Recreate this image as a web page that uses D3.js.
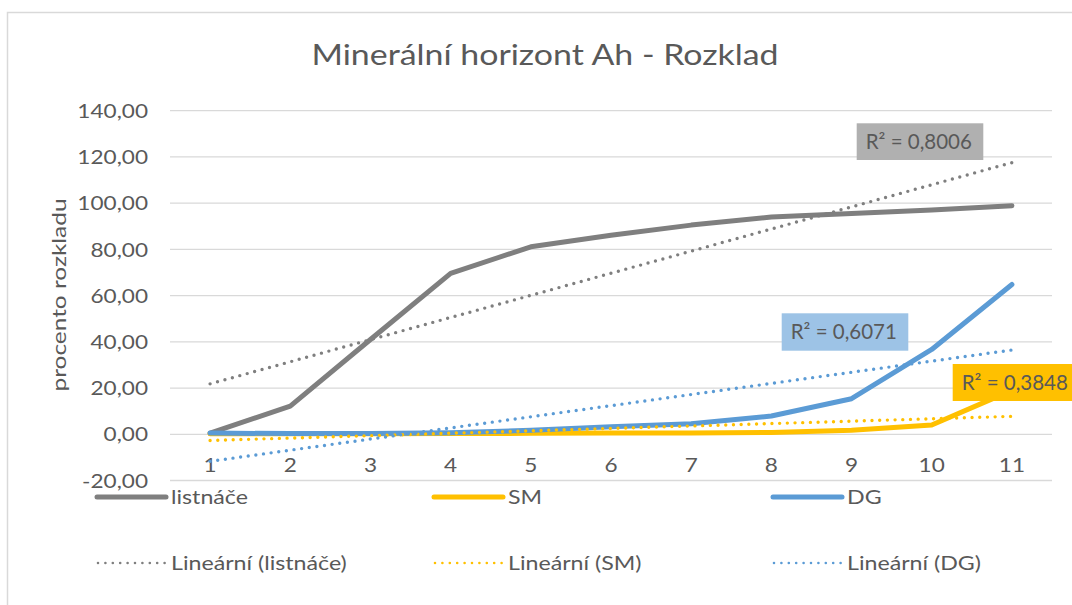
<!DOCTYPE html>
<html><head><meta charset="utf-8">
<script src="https://cdn.jsdelivr.net/npm/d3@7"></script>
<style>html,body{margin:0;padding:0;background:#fff;}svg{display:block;font-family:Lato,"Open Sans",sans-serif;}</style>
</head><body>
<svg id="c" width="1072" height="605"></svg>
<script>
const categories = ["1","2","3","4","5","6","7","8","9","10","11"];
const listnace = [0.5,12.2,41,69.6,81.1,86.1,90.5,94,95.5,97,98.9];
const sm = [0.2,0.2,0.2,0.3,0.4,0.5,0.6,0.8,1.7,4,19];
const dg = [0.5,0.3,0.3,0.7,1.7,3.3,4.6,7.9,15.4,36.7,64.8];
const yTicks = [-20,0,20,40,60,80,100,120,140];
const seriesNames = ["listnáče","SM","DG"];
const trendNames = ["Lineární (listnáče)","Lineární (SM)","Lineární (DG)"];
const r2Labels = ["R² = 0,8006","R² = 0,3848","R² = 0,6071"];
const colors = ["#7f7f7f","#ffc000","#5b9bd5"];
const title = "Minerální horizont Ah - Rozklad";
const yTitle = "procento rozkladu";

const svg = d3.select("#c");
const txt = "#595959";
svg.append("rect").attr("x",7.5).attr("y",12.5).attr("width",1100).attr("height",700)
  .attr("fill","#fff").attr("stroke","#d9d9d9").attr("stroke-width",1.5);

const x = d3.scalePoint().domain(categories).range([170,1052]).padding(0.5);
const y = d3.scaleLinear().domain([-20,140]).range([480.5,110.7]);

// gridlines
svg.append("g").selectAll("line").data(yTicks).join("line")
  .attr("x1",170).attr("x2",1052).attr("y1",d=>y(d)).attr("y2",d=>y(d))
  .attr("stroke","#d9d9d9").attr("stroke-width",1.3);

// y labels
const fmt = v => d3.format(".2f")(v).replace(".",",").replace("−","-");
svg.append("g").selectAll("text").data(yTicks).join("text")
  .attr("transform",d=>`translate(148,${y(d)}) scale(1.13,1)`).attr("dy","0.36em").attr("text-anchor","end")
  .attr("fill",txt).attr("font-size",20).text(d=>fmt(d));

// x labels
svg.append("g").selectAll("text").data(categories).join("text")
  .attr("transform",d=>`translate(${x(d)},472) scale(1.13,1)`).attr("text-anchor","middle")
  .attr("fill",txt).attr("font-size",20).text(d=>d);

// title
svg.append("text").attr("x",545).attr("y",65).attr("text-anchor","middle")
  .attr("textLength",467).attr("lengthAdjust","spacingAndGlyphs")
  .attr("fill",txt).attr("font-size",28).text(title);
// y title
svg.append("text").attr("transform","translate(66,295) rotate(-90)").attr("text-anchor","middle")
  .attr("textLength",193).attr("lengthAdjust","spacingAndGlyphs")
  .attr("fill",txt).attr("font-size",19.5).text(yTitle);

const allSeries = [listnace, sm, dg];
const line = d3.line().x((d,i)=>x(categories[i])).y(d=>y(d));
allSeries.forEach((s,k)=>{
  svg.append("path").datum(s).attr("d",line).attr("fill","none")
    .attr("stroke",colors[k]).attr("stroke-width",5).attr("stroke-linejoin","round").attr("stroke-linecap","round");
});

// linear trendlines (least squares on the series)
function fit(s){
  const xs = s.map((d,i)=>i+1);
  const mx = d3.mean(xs), my = d3.mean(s);
  const b = d3.sum(xs.map((xi,i)=>(xi-mx)*(s[i]-my)))/d3.sum(xs.map(xi=>(xi-mx)**2));
  const a = my - b*mx;
  return [a+b*1, a+b*categories.length];
}
allSeries.forEach((s,k)=>{
  const [y0,y1] = fit(s);
  svg.append("line").attr("x1",x(categories[0])).attr("x2",x(categories[categories.length-1]))
    .attr("y1",y(y0)).attr("y2",y(y1)).attr("stroke",colors[k]).attr("stroke-width",3.4)
    .attr("stroke-linecap","round").attr("stroke-dasharray","0 7.7");
});

// R² labels
const r2Boxes = [
  {x:856.7,y:123.3,w:126.6,h:36.7,fill:"#b0b0b0"},
  {x:952.7,y:364,w:140,h:37,fill:"#ffc000"},
  {x:781.7,y:313.3,w:126.6,h:37.4,fill:"#9dc3e6"}
];
r2Boxes.forEach((b,k)=>{
  svg.append("rect").attr("x",b.x).attr("y",b.y).attr("width",b.w).attr("height",b.h).attr("fill",b.fill);
  svg.append("text").attr("x",b.x+9).attr("y",b.y+b.h/2).attr("dy","0.36em")
    .attr("fill",txt).attr("font-size",20.5).text(r2Labels[k]);
});

// legend
const legX = [97,434,773];
const lg = svg.append("g");
seriesNames.forEach((n,k)=>{
  lg.append("line").attr("x1",legX[k]).attr("x2",legX[k]+69).attr("y1",497).attr("y2",497)
    .attr("stroke",colors[k]).attr("stroke-width",5).attr("stroke-linecap","round");
  lg.append("text").attr("transform",`translate(${legX[k]+74},497) scale(1.16,1)`).attr("dy","0.36em").attr("fill",txt)
    .attr("font-size",20).text(n);
});
trendNames.forEach((n,k)=>{
  lg.append("line").attr("x1",legX[k]+1).attr("x2",legX[k]+68).attr("y1",563).attr("y2",563)
    .attr("stroke",colors[k]).attr("stroke-width",2.6).attr("stroke-linecap","round").attr("stroke-dasharray","0 7.4");
  lg.append("text").attr("transform",`translate(${legX[k]+74},563) scale(1.16,1)`).attr("dy","0.36em").attr("fill",txt)
    .attr("font-size",20).text(n);
});
</script>
</body></html>
